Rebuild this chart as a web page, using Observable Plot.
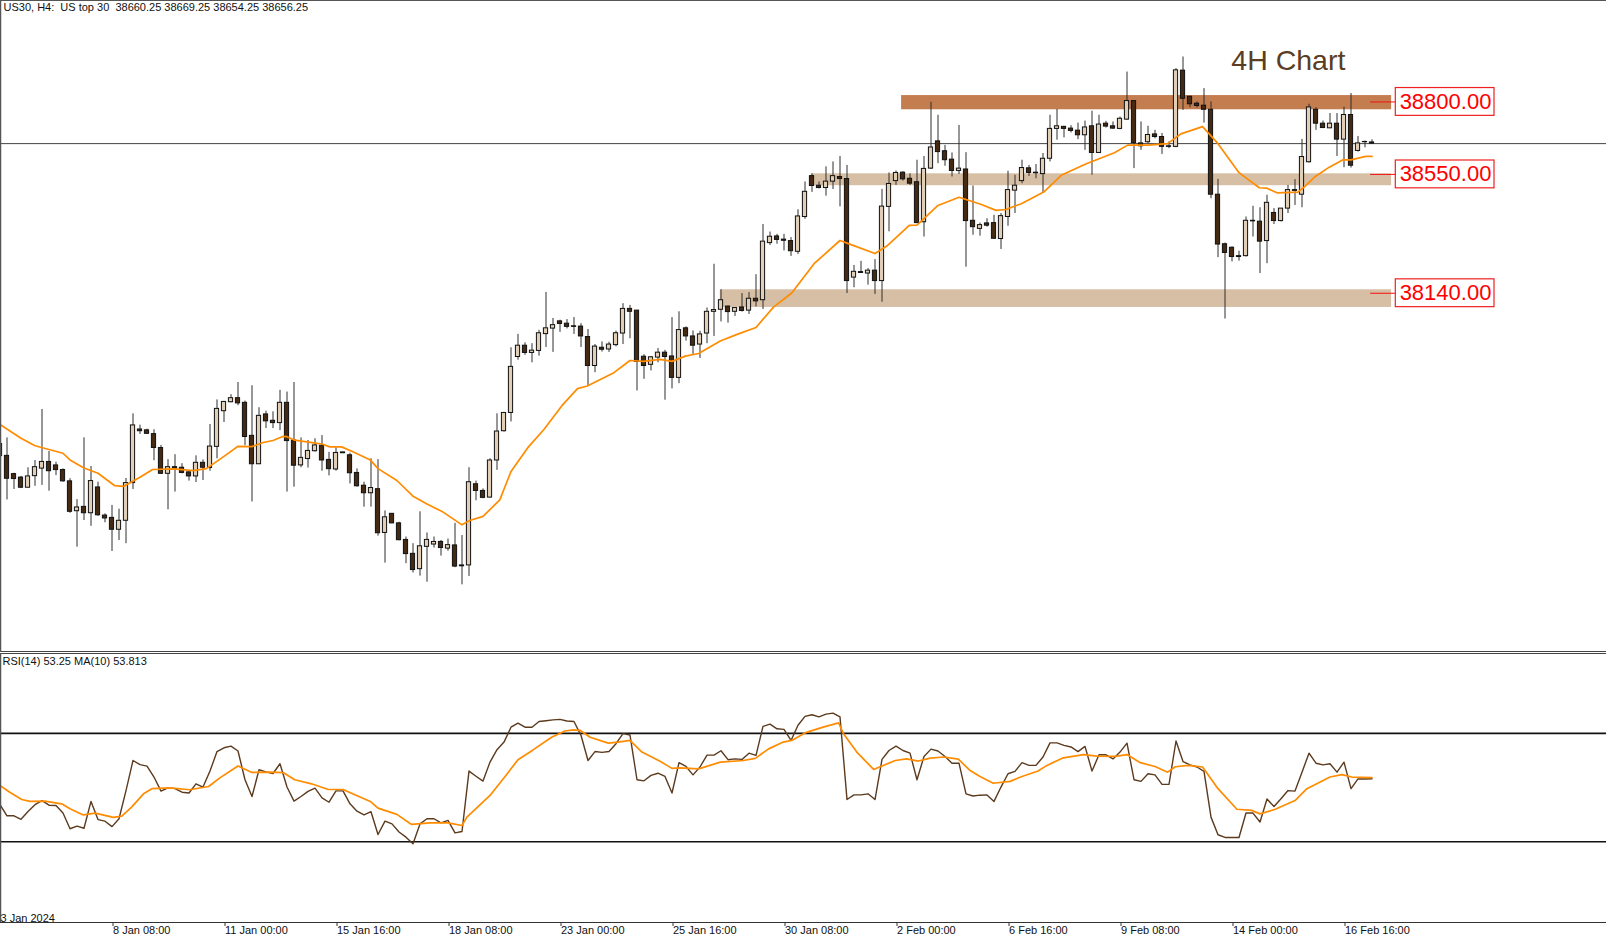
<!DOCTYPE html>
<html>
<head>
<meta charset="utf-8">
<script src="https://cdn.jsdelivr.net/npm/d3@7"></script>
<script src="https://cdn.jsdelivr.net/npm/@observablehq/plot@0.6"></script>
<style>
html,body{margin:0;padding:0;background:#fff;overflow:hidden}
svg{display:block;background:#fff}
svg text{white-space:pre}
</style>
</head>
<body>
<div id="chart"></div>
<script>
const opens=[37620,37579,37516,37504,37469,37509,37535,37558,37546,37530,
37491,37388,37403,37381,37470,37373,37365,37324,37355,37485,
37670,37667,37654,37606,37517,37540,37538,37522,37508,37555,
37537,37610,37733,37764,37778,37762,37648,37550,37722,37700,
37692,37762,37632,37546,37568,37595,37614,37565,37532,37588,
37581,37520,37476,37450,37464,37313,37379,37346,37289,37241,
37188,37265,37273,37282,37259,37270,37201,37201,37481,37458,
37435,37563,37664,37727,37920,37959,37934,37941,37999,38018,
38043,38035,38026,38025,37989,37889,37952,37946,37961,38001,
38086,38080,37921,37893,37918,37935,37922,37848,38019,37991,
37963,38001,38076,38083,38094,38076,38091,38080,38121,38116,
38313,38336,38325,38320,38283,38403,38544,38511,38503,38525,
38541,38534,38194,38213,38208,38218,38182,38438,38527,38556,
38535,38523,38385,38570,38664,38630,38601,38562,38567,38390,
38362,38381,38382,38327,38403,38494,38527,38571,38556,38551,
38604,38707,38714,38708,38701,38685,38716,38624,38725,38716,
38707,38739,38803,38657,38661,38688,38679,38647,38645,38908,
38818,38794,38787,38773,38480,38309,38297,38268,38268,38390,
38387,38320,38417,38389,38432,38493,38480,38592,38773,38725,
38709,38725,38670,38755,38631,38661,38660.25];
const highs=[37632,37641,37519,37508,37538,37563,37739,37594,37557,37534,
37500,37428,37641,37542,37488,37379,37408,37395,37501,37724,
37685,37671,37669,37615,37566,37583,37552,37528,37579,37565,
37687,37772,37767,37790,37832,37768,37821,37745,37733,37731,
37805,37799,37832,37641,37632,37638,37649,37591,37607,37591,
37588,37534,37488,37569,37566,37389,37380,37350,37299,37276,
37386,37313,37299,37287,37292,37346,37304,37538,37492,37465,
37569,37724,37729,37952,37998,37969,37966,38012,38143,38053,
38047,38049,38056,38035,38015,37963,37972,37971,38009,38104,
38098,38081,37928,37922,37949,37943,38056,38076,38024,38010,
38009,38089,38240,38152,38096,38090,38139,38142,38204,38377,
38351,38343,38343,38332,38428,38524,38552,38524,38576,38593,
38612,38581,38236,38250,38225,38256,38498,38555,38562,38559,
38552,38599,38612,38799,38754,38650,38624,38719,38625,38510,
38382,38397,38409,38415,38561,38547,38599,38581,38584,38622,
38754,38774,38716,38718,38727,38734,38768,38754,38733,38731,
38748,38903,38803,38731,38716,38702,38691,38662,38915,38955,
38819,38800,38846,38800,38533,38313,38300,38285,38403,38440,
38435,38478,38432,38432,38512,38532,38671,38792,38780,38734,
38760,38760,38782,38829,38681,38665,38669.25];
const lows=[37574,37427,37463,37466,37469,37474,37477,37457,37511,37488,
37381,37264,37356,37336,37370,37348,37249,37287,37276,37463,
37653,37653,37562,37515,37393,37454,37517,37492,37487,37494,
37526,37569,37694,37762,37752,37614,37420,37549,37673,37673,
37666,37454,37471,37538,37537,37592,37526,37510,37526,37588,
37482,37471,37402,37402,37302,37209,37345,37286,37207,37175,
37164,37143,37261,37233,37250,37193,37134,37163,37424,37431,
37433,37529,37661,37696,37909,37926,37900,37923,37953,37936,
38005,38017,37998,37953,37822,37866,37937,37936,37955,37963,
37983,37803,37843,37872,37900,37771,37810,37828,37975,37929,
37915,37966,37991,38041,38037,38060,38075,38067,38093,38084,
38305,38309,38286,38267,38274,38395,38488,38500,38475,38498,
38438,38139,38159,38208,38168,38136,38109,38352,38512,38527,
38512,38380,38334,38567,38587,38578,38541,38550,38230,38340,
38337,38368,38326,38291,38371,38415,38518,38543,38535,38486,
38593,38668,38676,38693,38670,38633,38547,38622,38710,38705,
38704,38737,38570,38633,38656,38673,38619,38639,38642,38771,
38780,38779,38727,38466,38263,38051,38248,38251,38265,38334,
38208,38242,38377,38386,38415,38443,38435,38589,38702,38708,
38708,38612,38573,38572,38627,38642,38654.25];
const closes=[37578,37500,37499,37469,37508,37540,37558,37526,37530,37491,
37386,37401,37381,37492,37374,37363,37324,37355,37485,37684,
37664,37655,37606,37517,37540,37535,37520,37508,37555,37538,
37611,37741,37765,37778,37760,37644,37550,37717,37698,37692,
37762,37630,37545,37572,37596,37615,37563,37533,37589,37591,
37519,37474,37450,37468,37312,37367,37346,37288,37240,37185,
37267,37289,37282,37261,37271,37197,37198,37488,37458,37434,
37563,37663,37727,37886,37959,37934,37942,38002,38019,38030,
38034,38024,38024,37991,37889,37956,37945,37963,38002,38086,
38076,37903,37889,37919,37935,37920,37848,38013,37991,37959,
37998,38076,38082,38116,38075,38089,38079,38121,38112,38318,
38335,38324,38321,38285,38405,38490,38510,38503,38525,38544,
38534,38182,38214,38210,38218,38182,38439,38517,38555,38533,
38518,38382,38569,38643,38627,38599,38562,38570,38389,38368,
38375,38373,38328,38406,38496,38511,38572,38555,38554,38604,
38707,38716,38707,38700,38685,38712,38624,38722,38715,38708,
38742,38803,38658,38647,38686,38679,38645,38645,38909,38811,
38792,38786,38773,38480,38308,38279,38265,38265,38390,38388,
38318,38452,38389,38432,38496,38496,38610,38781,38725,38710,
38725,38670,38755,38580,38657,38662,38656.25];

// moving average on price, read at its bends: [bar, price]
const priceMA=[[0,37687],[3,37640],[5,37614],[7,37601],[9,37588],[10,37565],[12,37537],[14,37519],[16.4,37476],[17.7,37474],
[20,37505],[21.8,37532],[24.8,37534],[27.6,37528],[29.5,37535],[32.4,37584],[34,37612],[36,37611],[37.6,37625],[39,37632],
[40.4,37646],[41,37645],[42.1,37633],[44.8,37624],[46,37620],[47.1,37610],[48.8,37610],[50.5,37592],[52.9,37565],[54,37535],
[56.7,37494],[59,37440],[61,37413],[63.3,37385],[66,37341],[67.1,37356],[69,37370],[71.4,37427],[73,37525],[75.5,37610],
[77.7,37670],[80.3,37753],[82.5,37811],[83.9,37820],[87.7,37866],[90,37908],[91.9,37905],[94.3,37912],[96,37905],[97.9,37923],
[99.8,37932],[102.9,37975],[105.3,37998],[108,38022],[110.5,38092],[113.1,38141],[116.3,38242],[120,38322],[121,38313],[125,38277],
[126.8,38305],[129.9,38374],[131,38375],[134,38443],[137,38471],[140.1,38447],[142.3,38426],[143.7,38429],[145.9,38449],[149.1,38489],
[151.6,38547],[155.1,38586],[159.2,38625],[161.1,38651],[164,38651],[166.8,38656],[168.7,38690],[171.8,38715],[174,38656],[177,38556],
[179.9,38504],[180.9,38503],[182.5,38486],[185.4,38489],[186.3,38506],[187.8,38541],[189.9,38575],[191.8,38600],[193,38600],[195.1,38612],[196,38612]];

const rsi=[43.7,39.6,39.6,38.3,41.2,43.7,45.2,43.5,43.4,40.6,
34.8,35.8,35.0,44.9,38.2,37.6,35.6,38.5,48.9,60.0,
58.5,57.9,53.9,48.7,49.9,49.6,48.3,48.0,51.4,50.2,
56.1,63.3,64.7,65.3,63.5,52.9,46.7,56.6,55.8,55.2,
58.8,50.2,45.0,46.7,48.6,49.8,46.2,44.6,48.8,48.8,
44.0,41.3,39.9,41.1,32.7,37.6,36.6,33.6,31.7,29.3,
36.6,38.5,38.5,37.0,37.9,33.3,33.8,56.1,54.2,52.4,
59.4,64.0,66.8,72.3,73.8,72.3,72.3,74.4,74.7,75.0,
75.2,74.6,74.4,69.3,60.0,63.3,63.0,63.3,66.2,69.9,
69.4,52.9,52.5,54.5,55.3,54.1,48.0,59.2,57.8,54.7,
57.6,62.0,62.0,63.6,60.3,60.6,60.4,62.7,61.9,72.6,
73.4,71.7,71.5,67.4,73.0,76.3,76.9,76.1,77.1,77.5,
76.1,45.6,47.3,47.3,47.7,45.6,60.4,63.7,65.3,63.7,
62.7,52.9,61.5,64.2,63.5,61.5,59.0,59.0,47.7,46.9,
47.2,47.3,44.9,50.2,55.1,56.0,59.2,58.2,58.2,61.3,
66.5,66.5,65.6,65.0,63.3,65.2,56.1,62.1,62.1,60.6,
63.1,66.4,52.9,52.3,55.1,54.7,51.2,51.2,67.2,59.6,
58.4,57.6,56.0,39.1,32.6,31.6,31.6,31.6,40.6,40.6,
37.3,45.8,43.0,45.9,48.9,48.7,55.7,62.7,59.0,58.4,
58.8,55.7,59.4,49.6,53.2,53.2,53.25];

// RSI moving average, read at its bends: [bar, value]
const rsiMA=[[0,50.8],[1.4,48.3],[3.1,45.6],[4.3,44.9],[6.4,45.0],[8.8,44.0],[10,42.2],[11.9,39.9],[13.6,40.6],[16.2,39.0],
[17.4,39.5],[18.8,42.8],[20.5,47.7],[21.7,49.6],[24.3,49.9],[27.1,49.2],[29.8,50.4],[31.4,53.6],[34,58.0],[36,55.6],
[38.6,55.7],[40.5,55.5],[42.1,52.9],[44.5,51.4],[46.9,49.3],[49,49.3],[52.9,44.9],[54,42.4],[56.7,40.1],[58.8,36.4],
[61.4,37.0],[64,37.0],[66,36.0],[66.7,39.1],[68.6,43.7],[70,47.1],[72.1,53.9],[74,60.3],[76.2,64.0],[78.8,68.6],
[80.7,70.9],[81.9,71.3],[82.9,71.1],[84.3,68.6],[86.9,66.4],[88.3,66.8],[90,67.4],[91.7,63.1],[94.3,59.7],[96,57.1],
[97.1,57.3],[99.8,56.9],[102.9,59.4],[106.2,60.0],[107.9,60.8],[109.8,64.3],[111.9,66.8],[113.1,67.4],[115.2,70.4],[117.6,72.3],
[119.8,73.9],[120.5,69.9],[122.4,63.1],[124.8,56.7],[127.9,60.0],[129.5,60.6],[131.2,59.8],[132.9,60.9],[134.8,61.3],[136.9,60.5],
[138.6,56.3],[140,54.1],[141.9,51.6],[144.3,52.3],[146,54.1],[148.3,56.1],[149.5,58.1],[151.9,61.0],[154.8,62.2],[156.7,61.6],
[159.3,61.5],[161,62.2],[162.9,59.2],[165,57.8],[166.8,55.7],[167.9,57.7],[169.8,58.2],[171.8,57.6],[174,49.6],[176.7,42.0],
[178.8,41.6],[180,40.3],[182.1,41.9],[185,45.2],[186.7,49.6],[190,53.9],[191.7,54.8],[193.1,53.9],[196,53.7]];

const rsiLevels=[70,30];
const tickBars=[16,32,48,64,80,96,112,128,144,160,176,192];
const tickLabels=["8 Jan 08:00","11 Jan 00:00","15 Jan 16:00","18 Jan 08:00","23 Jan 00:00","25 Jan 16:00","30 Jan 08:00","2 Feb 00:00","6 Feb 16:00","9 Feb 08:00","14 Feb 00:00","16 Feb 16:00"];
const firstLabel="3 Jan 2024";

const zones=[
 {start:128.8,top:38822,bottom:38773,fill:"#c47d4e"},
 {start:115.9,top:38552,bottom:38511,fill:"#d6bfa5"},
 {start:102.9,top:38152,bottom:38091,fill:"#d6bfa5"}
];
const zoneEnd=198.8;
const levelPrices=[38800,38550,38140];
const levelLabels=["38800.00","38550.00","38140.00"];
const lastPrice=38656.25;
const headerText="US30, H4:  US top 30  38660.25 38669.25 38654.25 38656.25";
const rsiText="RSI(14) 53.25 MA(10) 53.813";
const chartTitle="4H Chart";

const FONT='"Liberation Sans", Arial, sans-serif';
const W=1606;
const xDomain=[0.0714,229.5];
const bars=opens.map((o,i)=>({i,o,h:highs[i],l:lows[i],c:closes[i],up:closes[i]>=o}));
const half=0.3;

const pricePlot=Plot.plot({
  width:W,height:652,marginTop:0,marginBottom:0,marginLeft:0,marginRight:0,
  style:{fontFamily:FONT,background:"#fff"},
  x:{domain:xDomain,range:[0,W],axis:null},
  y:{domain:[36904,39150],range:[651,0],axis:null},
  marks:[
    Plot.rect(zones,{x1:"start",x2:()=>zoneEnd,y1:"bottom",y2:"top",fill:"fill"}),
    Plot.ruleY([lastPrice],{stroke:"#444",strokeWidth:1}),
    Plot.ruleX(bars,{x:"i",y1:"l",y2:"h",stroke:"#2e2e2e",strokeWidth:1}),
    Plot.rect(bars,{x1:d=>d.i-half,x2:d=>d.i+half,y1:"o",y2:"c",fill:d=>d.up?"#e0cfb6":"#452a13",stroke:"#111",strokeWidth:1}),
    Plot.line(priceMA,{x:d=>d[0],y:d=>d[1],stroke:"#ff8c00",strokeWidth:1.7}),
    Plot.ruleY(levelPrices,{x1:195.8,x2:199.4,stroke:"#f01010",strokeWidth:1}),
    Plot.rect(levelPrices,{x1:199.4,x2:213.5,y1:d=>d-48,y2:d=>d+48,fill:"#fff",stroke:"#f02020",strokeWidth:1.2}),
    Plot.text(levelPrices,{x:206.5,y:d=>d,text:(d,i)=>levelLabels[i],fill:"#f00",fontSize:22,textAnchor:"middle"}),
    Plot.text([chartTitle],{x:175.9,y:38941,text:d=>d,fill:"#5a3d22",fontSize:28.5,textAnchor:"start"}),
    Plot.text([headerText],{frameAnchor:"top-left",text:d=>d,dx:3,dy:3,fill:"#111",fontSize:11}),
    Plot.ruleY([39150],{stroke:"#555",strokeWidth:1}),
    Plot.ruleY([36904],{stroke:"#444",strokeWidth:1}),
    Plot.ruleX([xDomain[0]],{stroke:"#555",strokeWidth:1.5})
  ]
});

const rsiPlot=Plot.plot({
  width:W,height:287,marginTop:1,marginBottom:17,marginLeft:0,marginRight:0,
  style:{fontFamily:FONT,background:"#fff",fontSize:"11px"},
  x:{domain:xDomain,range:[0,W],axis:null},
  y:{domain:[0.2,99.5],axis:null},
  marks:[
    Plot.ruleY(rsiLevels,{stroke:"#111",strokeWidth:1.6}),
    Plot.line(rsi,{x:(d,i)=>i,y:d=>d,stroke:"#5b3a1e",strokeWidth:1.4}),
    Plot.line(rsiMA,{x:d=>d[0],y:d=>d[1],stroke:"#ff8c00",strokeWidth:1.7}),
    Plot.text([rsiText],{frameAnchor:"top-left",text:d=>d,dx:2,dy:4,fill:"#111",fontSize:11}),
    Plot.ruleY([99.5],{stroke:"#444",strokeWidth:1}),
    Plot.ruleY([0.2],{stroke:"#333",strokeWidth:1}),
    Plot.ruleX([xDomain[0]],{stroke:"#555",strokeWidth:1.5}),
    Plot.axisX(tickBars,{anchor:"bottom",tickSize:4,tickPadding:0,label:null,
      tickFormat:(d,i)=>tickLabels[i],textAnchor:"start",dx:1,fontSize:11,fill:"#111",stroke:"#333"}),
    Plot.text([firstLabel],{frameAnchor:"bottom-left",text:d=>d,dx:0,dy:-1,fill:"#111",fontSize:11})
  ]
});

document.getElementById("chart").append(pricePlot,rsiPlot);
</script>
</body>
</html>
